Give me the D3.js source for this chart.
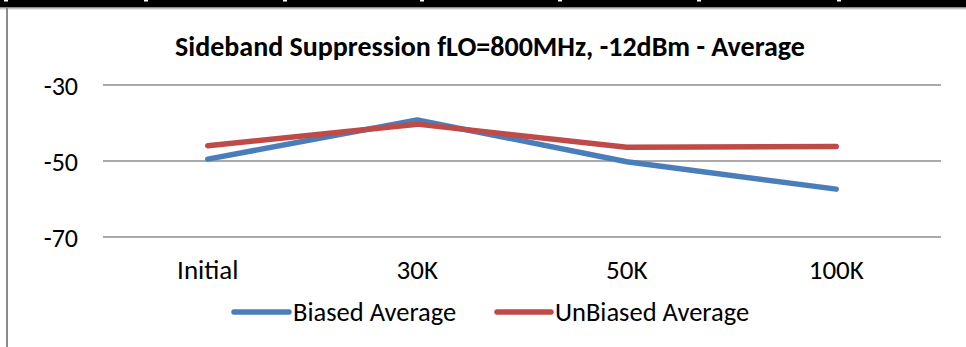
<!DOCTYPE html>
<html><head><meta charset="utf-8">
<script src="https://cdn.jsdelivr.net/npm/d3@7"></script>
<style>
html,body{margin:0;padding:0;background:#fff;}
svg{display:block;}
text{font-family:Carlito,Calibri,Lato,"Open Sans",sans-serif;fill:#000;}
</style></head>
<body>
<svg id="chart" width="966" height="347"></svg>
<script>
const title = "Sideband Suppression fLO=800MHz, -12dBm - Average";
const categories = ["Initial", "30K", "50K", "100K"];
const biasedAverage = [-49.5, -39.2, -50.2, -57.4];
const unbiasedAverage = [-46.0, -40.3, -46.4, -46.2];
const yTicks = [-30, -50, -70];
const yTickLabels = ["-30", "-50", "-70"];
const seriesNames = ["Biased Average", "UnBiased Average"];
const seriesColors = ["#4a7ebb", "#be4b48"];

const FONT = "Carlito,Calibri,Lato,'Open Sans',sans-serif";
const svg = d3.select("#chart");
const W = 966, H = 347;
const plot = {left: 103, right: 941, top: 85, bottom: 237};

// page decoration: black rule at top and chart frame
svg.append("rect").attr("x", 0).attr("y", 0).attr("width", W).attr("height", 7).attr("fill", "#000");
[4, 144, 283, 420, 558, 697, 837].forEach(x => {
  svg.append("rect").attr("x", x).attr("y", 0).attr("width", 4).attr("height", 1.5).attr("fill", "#fff");
});
svg.append("rect").attr("x", 0).attr("y", 7).attr("width", W).attr("height", 1.5).attr("fill", "#8a8a8a");
svg.append("rect").attr("x", 0).attr("y", 8.5).attr("width", W).attr("height", 1).attr("fill", "#c8c8c8");
svg.append("rect").attr("x", 6).attr("y", 8).attr("width", 2).attr("height", H).attr("fill", "#8a8a8a");

const x = d3.scaleBand().domain(categories).range([plot.left, plot.right]).padding(0);
const y = d3.scaleLinear().domain([-70, -30]).range([plot.bottom, plot.top]);

// gridlines
svg.append("g").selectAll("line").data(yTicks).join("line")
  .attr("x1", plot.left).attr("x2", plot.right)
  .attr("y1", d => y(d)).attr("y2", d => y(d))
  .attr("stroke", "#8c8c8c").attr("stroke-width", 1.6);

// y axis labels
const yAxis = d3.axisLeft(y).tickValues(yTicks).tickSize(0).tickPadding(0)
  .tickFormat((d, i) => yTickLabels[i]);
const gy = svg.append("g").attr("transform", "translate(78,0)").call(yAxis);
gy.select(".domain").remove();
gy.selectAll("text").attr("font-size", 26).attr("font-family", FONT).attr("fill", "#000").attr("dy", "0.35em");

// x axis labels
const xAxis = d3.axisBottom(x).tickSize(0).tickPadding(0);
const gx = svg.append("g").attr("transform", "translate(0,270)").call(xAxis);
gx.select(".domain").remove();
gx.selectAll("text").attr("font-size", 27).attr("font-family", FONT).attr("fill", "#000").attr("dy", "0.35em");

// lines
const line = d3.line().x((d, i) => x(categories[i]) + x.bandwidth() / 2).y(d => y(d));
[biasedAverage, unbiasedAverage].forEach((s, i) => {
  svg.append("path").datum(s).attr("d", line).attr("fill", "none")
    .attr("stroke", seriesColors[i]).attr("stroke-width", 5.5)
    .attr("stroke-linecap", "round").attr("stroke-linejoin", "round");
});

// title
svg.append("text").attr("x", 490).attr("y", 56).attr("text-anchor", "middle")
  .attr("font-size", 28).attr("font-weight", "bold").text(title);

// legend
const legendItems = [{x1: 234, x2: 289, tx: 293}, {x1: 497, x2: 551, tx: 555}];
legendItems.forEach((it, i) => {
  svg.append("line").attr("x1", it.x1).attr("x2", it.x2).attr("y1", 312).attr("y2", 312)
    .attr("stroke", seriesColors[i]).attr("stroke-width", 5.5).attr("stroke-linecap", "round");
  svg.append("text").attr("x", it.tx).attr("y", 312).attr("dy", "0.35em")
    .attr("font-size", 26.5).text(seriesNames[i]);
});
</script>
</body></html>
